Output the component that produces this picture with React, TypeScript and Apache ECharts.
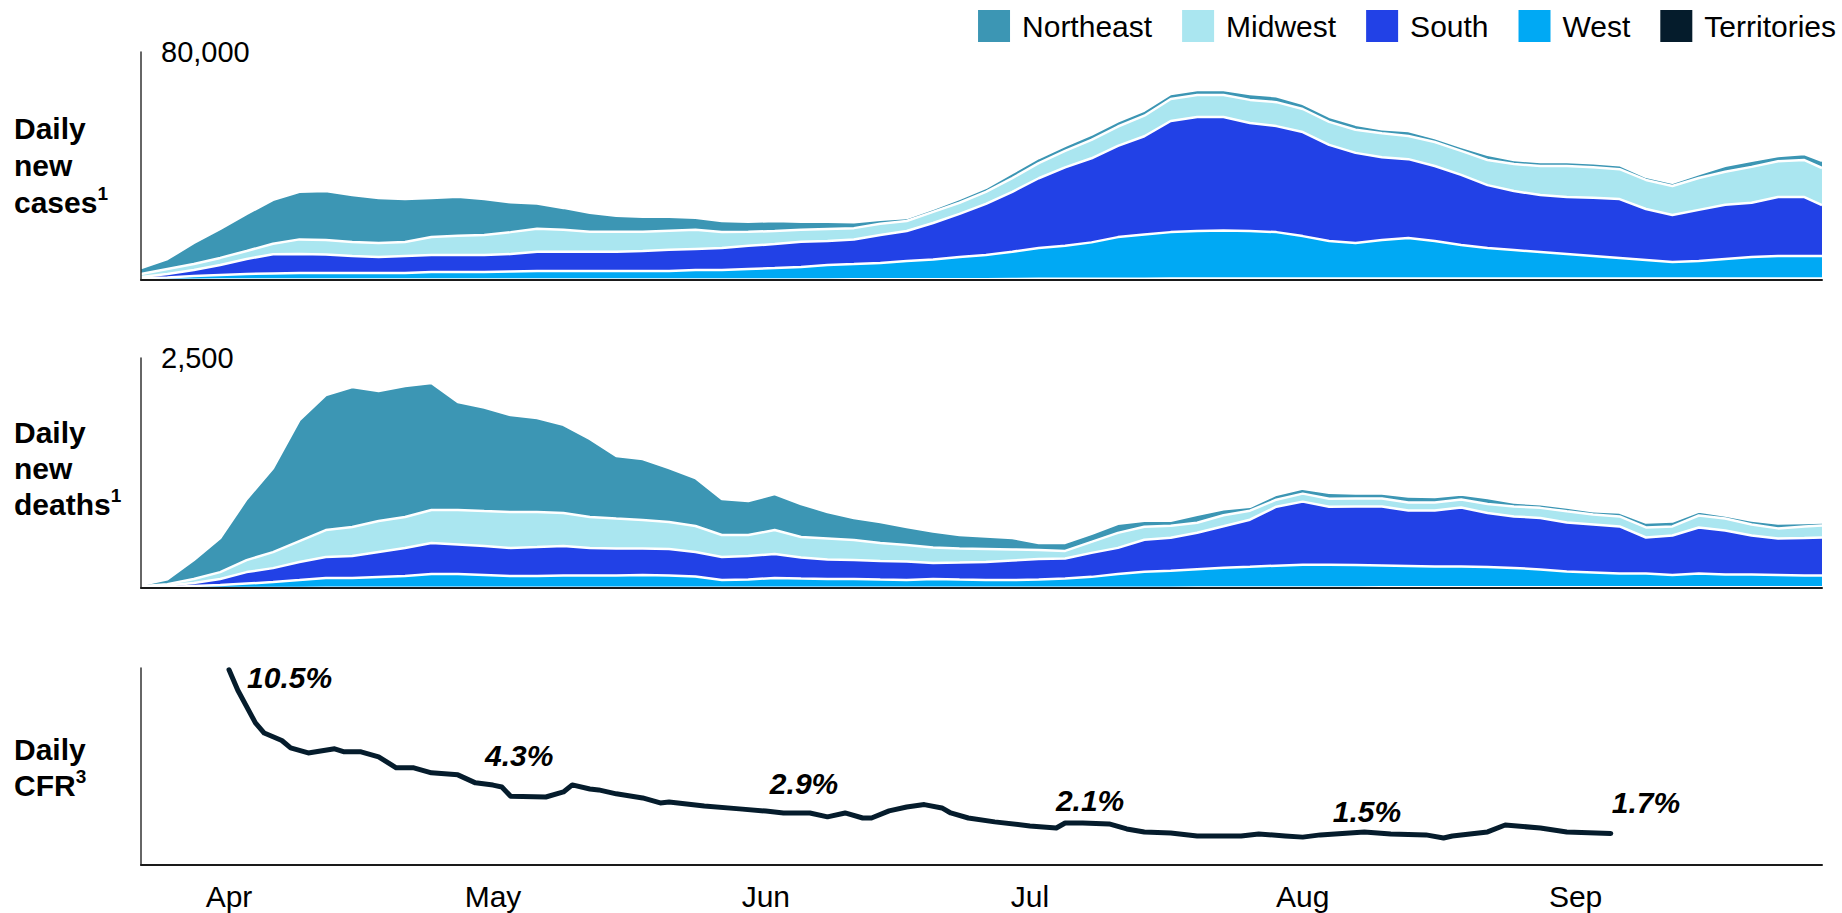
import React, { useEffect, useRef } from 'react';
import * as echarts from 'echarts';

const FONT = '"Liberation Sans", Arial, Helvetica, sans-serif';

// ---------- axis categories ----------
const monthNames = ['Jan', 'Feb', 'Mar', 'Apr', 'May', 'Jun', 'Jul', 'Aug', 'Sep', 'Oct', 'Nov', 'Dec'];
const firstDay = '2020-03-22';
const lastDay = '2020-09-29';

// sample dates of the area series (read every 3 days)
const sampleDates = [
  '2020-03-22', '2020-03-25', '2020-03-28', '2020-03-31', '2020-04-03', '2020-04-06', '2020-04-09', '2020-04-12',
  '2020-04-15', '2020-04-18', '2020-04-21', '2020-04-24', '2020-04-27', '2020-04-30', '2020-05-03', '2020-05-06',
  '2020-05-09', '2020-05-12', '2020-05-15', '2020-05-18', '2020-05-21', '2020-05-24', '2020-05-27', '2020-05-30',
  '2020-06-02', '2020-06-05', '2020-06-08', '2020-06-11', '2020-06-14', '2020-06-17', '2020-06-20', '2020-06-23',
  '2020-06-26', '2020-06-29', '2020-07-02', '2020-07-05', '2020-07-08', '2020-07-11', '2020-07-14', '2020-07-17',
  '2020-07-20', '2020-07-23', '2020-07-26', '2020-07-29', '2020-08-01', '2020-08-04', '2020-08-07', '2020-08-10',
  '2020-08-13', '2020-08-16', '2020-08-19', '2020-08-22', '2020-08-25', '2020-08-28', '2020-08-31', '2020-09-03',
  '2020-09-06', '2020-09-09', '2020-09-12', '2020-09-15', '2020-09-18', '2020-09-21', '2020-09-24', '2020-09-27',
  '2020-09-29',
];

// ---------- daily new cases by region ----------
const casesTerritories = [
  100, 100, 100, 150, 200, 200, 200, 200, 200, 200, 200, 200, 200, 200, 200, 200,
  200, 200, 200, 200, 200, 200, 200, 200, 200, 200, 200, 250, 300, 300, 300, 300,
  300, 350, 400, 400, 400, 450, 450, 500, 500, 500, 500, 500, 500, 500, 500, 500,
  500, 500, 500, 500, 500, 500, 500, 500, 500, 500, 500, 500, 500, 500, 500, 500,
  500,
];
const casesWest = [
  600, 800, 1300, 1600, 1900, 2100, 2250, 2250, 2250, 2250, 2250, 2600, 2600, 2600, 2800, 3000,
  3000, 3000, 3000, 3000, 3000, 3300, 3300, 3700, 4000, 4400, 5100, 5350, 5700, 6400, 6900, 7800,
  8500, 9600, 10800, 11600, 12800, 14600, 15500, 16300, 16700, 16900, 16700, 16300, 14900, 13200, 12500, 13500,
  14200, 13200, 11800, 10700, 10000, 9300, 8600, 7900, 7200, 6500, 5800, 6200, 6900, 7600, 7900, 7900,
  7900,
];
const casesSouth = [
  350, 1200, 2100, 3500, 5300, 6700, 6700, 6500, 6000, 5600, 6000, 6000, 6000, 6000, 6100, 6700,
  6700, 6700, 6700, 7000, 7400, 7400, 7700, 8100, 8400, 8800, 8400, 8600, 9800, 10500, 12800, 15100,
  17900, 21000, 24500, 27500, 29500, 32000, 34500, 39000, 40000, 39800, 37900, 37200, 36500, 33700, 31600, 29100,
  27700, 26300, 24600, 22100, 20700, 20000, 20000, 20500, 20700, 17900, 16500, 17900, 19000, 19000, 20700, 20700,
  17900,
];
const casesMidwest = [
  1050, 1750, 2100, 2500, 2800, 3700, 5100, 5100, 4900, 4900, 4900, 6300, 6700, 7000, 7700, 8100,
  7700, 7000, 7000, 6700, 6700, 6700, 5600, 4900, 4600, 4200, 4200, 4000, 3900, 3500, 3900, 3900,
  4200, 4800, 5300, 5800, 6500, 6800, 7200, 7700, 7700, 7700, 8100, 8400, 8100, 8100, 8100, 8400,
  8100, 8400, 8400, 8800, 9500, 10200, 10900, 10700, 10500, 10200, 10200, 11200, 11600, 12600, 12600, 13000,
  13000,
];
const casesNortheast = [
  2100, 3500, 7400, 10200, 13000, 15400, 16700, 17200, 16500, 15800, 15100, 13700, 13700, 12600, 10500, 8800,
  7700, 6700, 5600, 5300, 4900, 4200, 3900, 3500, 3500, 2800, 2500, 2100, 1400, 1050, 1100, 1400,
  1400, 1800, 1800, 1800, 1800, 1800, 1800, 1800, 1800, 1800, 2100, 2100, 1800, 1800, 1800, 1400,
  1800, 1400, 1400, 1800, 1400, 1400, 1400, 1400, 1400, 1100, 1100, 1400, 2100, 2100, 1800, 2100,
  2500,
];

// ---------- daily new deaths by region ----------
const deathsTerritories = [
  0, 0, 0, 1, 1, 1, 1, 2, 2, 2, 2, 2, 2, 2, 2, 2,
  2, 2, 2, 2, 2, 2, 2, 2, 2, 2, 2, 2, 2, 2, 2, 2,
  2, 2, 2, 3, 3, 3, 4, 4, 5, 5, 5, 6, 6, 6, 6, 7,
  7, 7, 7, 7, 8, 8, 8, 8, 8, 8, 8, 8, 8, 8, 8, 8,
  8,
];
const deathsWest = [
  4, 10, 21, 31, 47, 63, 85, 107, 107, 118, 128, 150, 150, 139, 128, 128,
  134, 134, 134, 139, 134, 123, 85, 90, 107, 101, 96, 96, 90, 85, 96, 90,
  85, 85, 90, 101, 118, 150, 172, 183, 199, 215, 226, 237, 248, 248, 243, 237,
  232, 226, 226, 221, 210, 194, 172, 161, 150, 150, 134, 150, 139, 139, 134, 128,
  128,
];
const deathsSouth = [
  11, 16, 33, 65, 125, 152, 196, 228, 239, 272, 304, 337, 321, 315, 304, 315,
  321, 299, 293, 288, 288, 266, 250, 255, 261, 228, 212, 207, 201, 201, 174, 185,
  196, 212, 223, 217, 261, 283, 348, 359, 397, 451, 511, 641, 685, 630, 636, 641,
  603, 609, 641, 587, 560, 560, 533, 522, 511, 391, 429, 500, 478, 424, 397, 408,
  413,
];
const deathsMidwest = [
  5, 16, 43, 76, 130, 174, 228, 293, 315, 337, 337, 359, 375, 380, 391, 380,
  359, 337, 326, 310, 293, 283, 239, 228, 261, 223, 228, 217, 196, 179, 168, 152,
  141, 120, 98, 82, 120, 163, 141, 130, 109, 120, 98, 76, 87, 87, 87, 87,
  87, 87, 87, 98, 109, 109, 120, 109, 109, 109, 98, 130, 130, 120, 109, 125,
  130,
];
const deathsNortheast = [
  11, 54, 207, 370, 663, 913, 1315, 1467, 1522, 1413, 1424, 1380, 1174, 1125, 1054, 1022,
  957, 848, 679, 663, 587, 522, 391, 370, 391, 359, 288, 239, 228, 196, 174, 147,
  136, 125, 76, 87, 87, 98, 65, 54, 87, 65, 43, 54, 54, 65, 54, 54,
  65, 60, 54, 65, 43, 38, 43, 33, 43, 54, 54, 43, 33, 43, 54, 38,
  33,
];

// ---------- daily case fatality rate (%) ----------
const cfrDates = [
  '2020-04-01', '2020-04-02', '2020-04-04', '2020-04-05', '2020-04-07', '2020-04-08', '2020-04-10', '2020-04-13',
  '2020-04-14', '2020-04-16', '2020-04-18', '2020-04-20', '2020-04-22', '2020-04-24', '2020-04-27', '2020-04-29',
  '2020-05-01', '2020-05-02', '2020-05-03', '2020-05-07', '2020-05-09', '2020-05-10', '2020-05-12', '2020-05-13',
  '2020-05-15', '2020-05-18', '2020-05-20', '2020-05-21', '2020-05-25', '2020-05-29', '2020-06-01', '2020-06-03',
  '2020-06-06', '2020-06-08', '2020-06-10', '2020-06-12', '2020-06-13', '2020-06-15', '2020-06-17', '2020-06-19',
  '2020-06-21', '2020-06-22', '2020-06-24', '2020-06-27', '2020-07-01', '2020-07-04', '2020-07-05', '2020-07-07',
  '2020-07-10', '2020-07-12', '2020-07-14', '2020-07-17', '2020-07-20', '2020-07-25', '2020-07-27', '2020-07-30',
  '2020-08-01', '2020-08-03', '2020-08-08', '2020-08-11', '2020-08-15', '2020-08-17', '2020-08-18', '2020-08-22',
  '2020-08-24', '2020-08-28', '2020-08-31', '2020-09-05',
];
const cfrValues = [
  10.5, 9.4, 7.65, 7.1, 6.7, 6.3, 6.03, 6.25, 6.1, 6.09, 5.82, 5.23, 5.23, 4.96, 4.85, 4.42,
  4.3, 4.2, 3.7, 3.66, 3.93, 4.31, 4.09, 4.04, 3.83, 3.61, 3.34, 3.39, 3.18, 3.02, 2.9, 2.8,
  2.8, 2.59, 2.8, 2.53, 2.53, 2.91, 3.12, 3.25, 3.07, 2.8, 2.53, 2.32, 2.1, 1.99, 2.26, 2.26,
  2.21, 1.94, 1.78, 1.72, 1.56, 1.56, 1.67, 1.56, 1.5, 1.62, 1.78, 1.67, 1.62, 1.45, 1.56, 1.78,
  2.15, 1.99, 1.78, 1.7,
];
const cfrLabelDates = ['2020-04-01', '2020-05-01', '2020-06-01', '2020-07-01', '2020-08-01', '2020-09-05'];

// ---------- axis limits ----------
const casesMax = 80000;
const deathsMax = 2500;
const cfrMax = 10.6;

// ---------- styling (not data) ----------
const regionStyles = [
  { name: 'Territories', color: '#051C2C' },
  { name: 'West', color: '#00A9F4' },
  { name: 'South', color: '#2241E6' },
  { name: 'Midwest', color: '#AAE6F0' },
  { name: 'Northeast', color: '#3C96B4' },
];
const casesByRegion: Record<string, number[]> = {
  Territories: casesTerritories, West: casesWest, South: casesSouth, Midwest: casesMidwest, Northeast: casesNortheast,
};
const deathsByRegion: Record<string, number[]> = {
  Territories: deathsTerritories, West: deathsWest, South: deathsSouth, Midwest: deathsMidwest, Northeast: deathsNortheast,
};
const legendOrder = ['Northeast', 'Midwest', 'South', 'West', 'Territories'];
const cfrLabelOffsets: Record<string, [number, number]> = {
  '2020-04-01': [17, 8],
  '2020-05-01': [-9, -30],
  '2020-06-01': [3, -28],
  '2020-07-01': [25, -25],
  '2020-08-01': [29, -26],
  '2020-09-05': [0, -31],
};

function buildDays(start: string, end: string): string[] {
  const out: string[] = [];
  const d = new Date(start + 'T00:00:00Z');
  const e = new Date(end + 'T00:00:00Z').getTime();
  while (d.getTime() <= e) {
    out.push(d.toISOString().slice(0, 10));
    d.setUTCDate(d.getUTCDate() + 1);
  }
  return out;
}

function buildOption() {
  const days = buildDays(firstDay, lastDay);
  const grids = [
    { left: 141, right: 20, top: 52, height: 228 },
    { left: 141, right: 20, top: 358, height: 230 },
    { left: 141, right: 20, top: 668, height: 197 },
  ];
  const xAxes = grids.map((_, i) => ({
    type: 'category',
    gridIndex: i,
    data: days,
    boundaryGap: false,
    z: 20,
    axisLine: { show: true, onZero: false, lineStyle: { color: '#1a1a1a', width: 2 } },
    axisTick: { show: false },
    splitLine: { show: false },
    axisLabel:
      i === 2
        ? {
            show: true,
            interval: (_idx: number, v: string) => v.slice(8) === '01',
            formatter: (v: string) => monthNames[parseInt(v.slice(5, 7), 10) - 1],
            fontSize: 30,
            color: '#000',
            fontFamily: FONT,
            margin: 16,
          }
        : { show: false },
  }));
  const yBase = {
    type: 'value',
    min: 0,
    z: 20,
    axisLine: { show: true, lineStyle: { color: '#333', width: 1.5 } },
    axisTick: { show: false },
    splitLine: { show: false },
  };
  const fmt = (v: number) => String(v).replace(/\B(?=(\d{3})+(?!\d))/g, ',');
  const yAxes = [
    {
      ...yBase, gridIndex: 0, max: casesMax, interval: casesMax,
      axisLabel: {
        inside: true, margin: 20, fontSize: 29, color: '#000', fontFamily: FONT,
        showMinLabel: false, showMaxLabel: true,
        formatter: (v: number) => (v === casesMax ? fmt(v) : ''),
      },
    },
    {
      ...yBase, gridIndex: 1, max: deathsMax, interval: deathsMax,
      axisLabel: {
        inside: true, margin: 20, fontSize: 29, color: '#000', fontFamily: FONT,
        showMinLabel: false, showMaxLabel: true,
        formatter: (v: number) => (v === deathsMax ? fmt(v) : ''),
      },
    },
    { ...yBase, gridIndex: 2, max: cfrMax, axisLabel: { show: false } },
  ];

  const areaSeries: any[] = [];
  const panels = [
    { key: 'cases', byRegion: casesByRegion, axis: 0 },
    { key: 'deaths', byRegion: deathsByRegion, axis: 1 },
  ];
  panels.forEach((p) => {
    regionStyles.forEach((r, order) => {
      const vals = p.byRegion[r.name];
      areaSeries.push({
        type: 'line',
        name: r.name,
        stack: p.key,
        xAxisIndex: p.axis,
        yAxisIndex: p.axis,
        symbol: 'none',
        showSymbol: false,
        smooth: false,
        silent: true,
        emphasis: { disabled: true },
        z: 10 - order,
        itemStyle: { color: r.color },
        lineStyle: { color: '#ffffff', width: 2.5 },
        areaStyle: { color: r.color, opacity: 1 },
        data: sampleDates.map((d, i) => [d, vals[i]]),
      });
    });
  });

  const cfrData = cfrDates.map((d, i) => {
    if (cfrLabelDates.includes(d)) {
      return {
        value: [d, cfrValues[i]],
        label: {
          show: true,
          position: 'right',
          distance: 0,
          offset: cfrLabelOffsets[d] || [0, -28],
          formatter: (prm: any) => `${Number(prm.value[1]).toFixed(1)}%`,
          fontSize: 30,
          fontWeight: 'bold',
          fontStyle: 'italic',
          color: '#000',
          fontFamily: FONT,
        },
      };
    }
    return [d, cfrValues[i]];
  });

  const cfrSeries = {
    type: 'line',
    name: 'Daily CFR',
    xAxisIndex: 2,
    yAxisIndex: 2,
    symbol: 'circle',
    symbolSize: 2,
    showSymbol: true,
    showAllSymbol: true,
    clip: false,
    silent: true,
    emphasis: { disabled: true },
    z: 5,
    itemStyle: { color: '#051C2C' },
    lineStyle: { color: '#051C2C', width: 5, cap: 'round', join: 'round' },
    data: cfrData,
  };

  const supStyle = { fontSize: 19, fontWeight: 'bold', color: '#000', fontFamily: FONT, verticalAlign: 'top', lineHeight: 26 };
  const titleStyle = { fontSize: 30, fontWeight: 'bold', color: '#000', fontFamily: FONT, rich: { sup: supStyle } };

  return {
    animation: false,
    backgroundColor: '#ffffff',
    textStyle: { fontFamily: FONT },
    title: [
      { text: 'Daily\nnew\ncases{sup|1}', left: 14, top: 110, padding: 0, textStyle: { ...titleStyle, lineHeight: 37 } },
      { text: 'Daily\nnew\ndeaths{sup|1}', left: 14, top: 414, padding: 0, textStyle: { ...titleStyle, lineHeight: 36 } },
      { text: 'Daily\nCFR{sup|3}', left: 14, top: 731, padding: 0, textStyle: { ...titleStyle, lineHeight: 36 } },
    ],
    legend: {
      right: 6,
      top: 7,
      orient: 'horizontal',
      icon: 'rect',
      itemWidth: 32,
      itemHeight: 32,
      itemGap: 30,
      selectedMode: false,
      padding: 0,
      itemStyle: { borderWidth: 0 },
      textStyle: { fontSize: 30, lineHeight: 30, color: '#000', fontFamily: FONT, padding: [8, 0, 0, 7] },
      data: legendOrder.map((n) => {
        const st = regionStyles.find((r) => r.name === n)!;
        return { name: n, icon: 'rect', itemStyle: { color: st.color, borderWidth: 0 } };
      }),
    },
    grid: grids,
    xAxis: xAxes,
    yAxis: yAxes,
    series: [...areaSeries, cfrSeries],
  };
}

export default function App() {
  const ref = useRef<HTMLDivElement>(null);
  useEffect(() => {
    document.body.style.margin = '0';
    document.body.style.overflow = 'hidden';
    if (!ref.current) return;
    const chart = echarts.init(ref.current, null, { renderer: 'svg' });
    chart.setOption(buildOption() as any);
    return () => {
      chart.dispose();
    };
  }, []);
  return <div ref={ref} style={{ width: 1842, height: 913 }} />;
}
